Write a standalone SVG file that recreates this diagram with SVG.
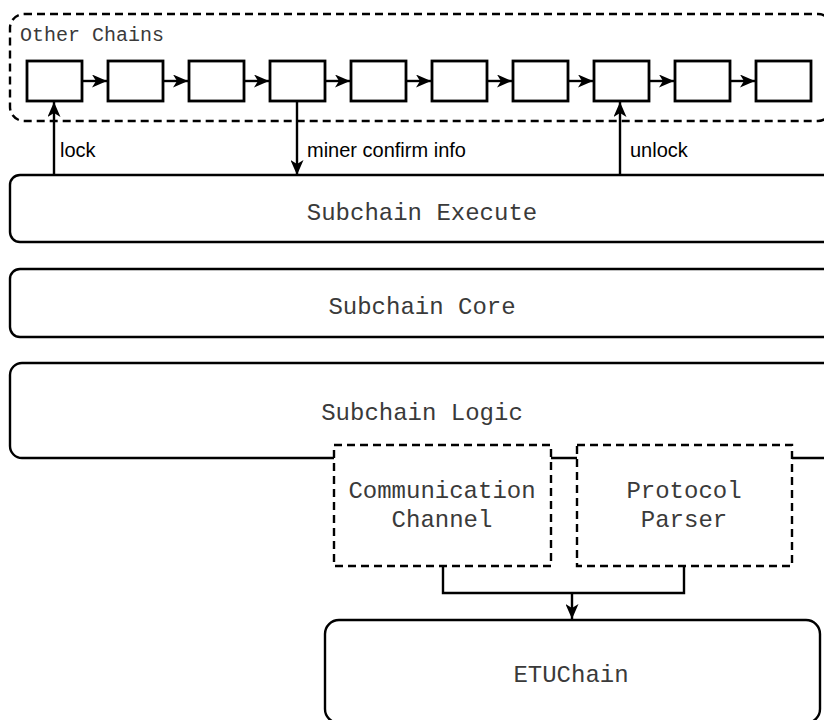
<svg xmlns="http://www.w3.org/2000/svg" width="824" height="720" viewBox="0 0 824 720">
<defs>
<style>
.solid{fill:#fff;stroke:#000;stroke-width:2.4}
.dash{fill:#fff;stroke:#000;stroke-width:2.4;stroke-dasharray:8 5}
.blk{fill:#fff;stroke:#000;stroke-width:2.8}
.mono{font-family:"Liberation Mono","Courier New",monospace;font-size:24px;fill:#3a3a3a;text-anchor:middle}
.lbl{font-family:"Liberation Sans",Arial,sans-serif;font-size:20px;fill:#000}
.edge{fill:none;stroke:#000;stroke-width:2.4}
</style>
<marker id="arr" viewBox="0 0 15 13" markerWidth="15" markerHeight="13" refX="15" refY="6.5" orient="auto" markerUnits="userSpaceOnUse">
<path d="M0,0 L15,6.5 L0,13 L4,6.5 z" fill="#000"/>
</marker>
</defs>

<g id="other-chains">
<rect class="dash" x="10" y="14" width="822" height="107" rx="14"/>
<text x="20" y="41" style="font-family:'Liberation Mono','Courier New',monospace;font-size:20px;fill:#3a3a3a">Other Chains</text>
</g>

<g id="block1"><rect class="blk" x="27" y="61" width="55" height="40"/></g>
<g id="block2"><rect class="blk" x="108" y="61" width="55" height="40"/></g>
<g id="block3"><rect class="blk" x="189" y="61" width="55" height="40"/></g>
<g id="block4"><rect class="blk" x="270" y="61" width="55" height="40"/></g>
<g id="block5"><rect class="blk" x="351" y="61" width="55" height="40"/></g>
<g id="block6"><rect class="blk" x="432" y="61" width="55" height="40"/></g>
<g id="block7"><rect class="blk" x="513" y="61" width="55" height="40"/></g>
<g id="block8"><rect class="blk" x="594" y="61" width="55" height="40"/></g>
<g id="block9"><rect class="blk" x="675" y="61" width="55" height="40"/></g>
<g id="block10"><rect class="blk" x="756" y="61" width="55" height="40"/></g>

<g id="subchain-execute">
<rect class="solid" x="10" y="175" width="826" height="67" rx="10"/>
<text class="mono" x="422" y="220">Subchain Execute</text>
</g>

<g id="subchain-core">
<rect class="solid" x="10" y="269" width="826" height="68" rx="10"/>
<text class="mono" x="422" y="314">Subchain Core</text>
</g>

<g id="subchain-logic">
<rect class="solid" x="10" y="363" width="826" height="95" rx="12"/>
<text class="mono" x="422" y="420">Subchain Logic</text>
</g>

<g id="communication-channel">
<rect class="dash" x="334" y="445" width="217" height="121"/>
<text class="mono" x="442" y="498">Communication</text>
<text class="mono" x="442" y="527">Channel</text>
</g>

<g id="protocol-parser">
<rect class="dash" x="577" y="445" width="215" height="121"/>
<text class="mono" x="684" y="498">Protocol</text>
<text class="mono" x="684" y="527">Parser</text>
</g>

<g id="etuchain">
<rect class="solid" x="325" y="620" width="495" height="103" rx="14"/>
<text class="mono" x="571" y="682">ETUChain</text>
</g>

<g id="connectors">
<line class="edge" x1="82" y1="81" x2="107" y2="81" marker-end="url(#arr)"/>
<line class="edge" x1="163" y1="81" x2="188" y2="81" marker-end="url(#arr)"/>
<line class="edge" x1="244" y1="81" x2="269" y2="81" marker-end="url(#arr)"/>
<line class="edge" x1="325" y1="81" x2="350" y2="81" marker-end="url(#arr)"/>
<line class="edge" x1="406" y1="81" x2="431" y2="81" marker-end="url(#arr)"/>
<line class="edge" x1="487" y1="81" x2="512" y2="81" marker-end="url(#arr)"/>
<line class="edge" x1="568" y1="81" x2="593" y2="81" marker-end="url(#arr)"/>
<line class="edge" x1="649" y1="81" x2="674" y2="81" marker-end="url(#arr)"/>
<line class="edge" x1="730" y1="81" x2="755" y2="81" marker-end="url(#arr)"/>

<line class="edge" x1="54" y1="175" x2="54" y2="102" marker-end="url(#arr)"/>
<text class="lbl" x="60" y="157">lock</text>
<line class="edge" x1="297" y1="102" x2="297" y2="175" marker-end="url(#arr)"/>
<text class="lbl" x="307" y="157">miner confirm info</text>
<line class="edge" x1="620" y1="175" x2="620" y2="102" marker-end="url(#arr)"/>
<text class="lbl" x="630" y="157">unlock</text>

<path class="edge" d="M443,566 V593 H684 V566"/>
<line class="edge" x1="572" y1="593" x2="572" y2="619" marker-end="url(#arr)"/>
</g>
</svg>
